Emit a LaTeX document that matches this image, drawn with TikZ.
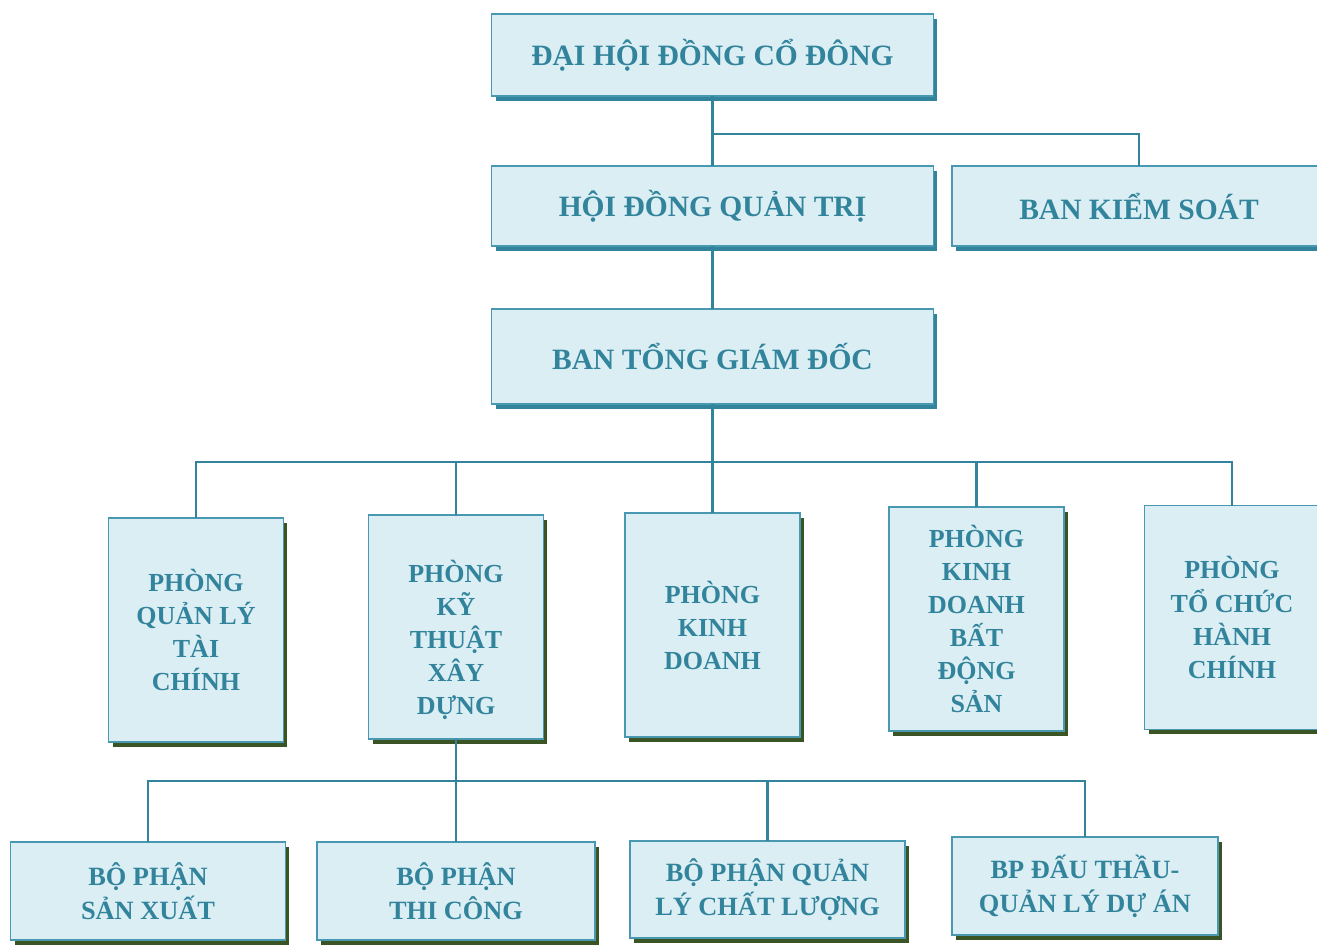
\documentclass[tikz,border=0pt]{standalone}
\usepackage{fontspec}
\setmainfont{Liberation Serif}
\usepackage{xcolor}
\definecolor{orgteal}{RGB}{49,132,155}
\definecolor{orgfill}{RGB}{219,238,244}
\definecolor{orgline}{RGB}{72,152,178}
\definecolor{orggreen}{RGB}{58,84,36}
\usetikzlibrary{shadows}

\begin{document}
\begin{tikzpicture}[x=0.02cm, y=-0.02cm,
  obox/.style={rectangle, draw=orgline, line width=0.7pt, fill=orgfill,
               inner sep=0pt, outer sep=0pt, align=center, text=orgteal,
               drop shadow={shadow xshift=0.08cm, shadow yshift=-0.1cm,
                            fill=#1, opacity=1}},
  topbox/.style={obox=orgteal, minimum width=8.84cm, minimum height=1.64cm,
                 font=\fontsize{16.8}{20}\selectfont\bfseries},
  depbox/.style={obox=orggreen, minimum width=3.5cm, minimum height=4.48cm,
                 font=\fontsize{14.8}{18.8}\selectfont\bfseries},
  subbox/.style={obox=orggreen, minimum width=5.5cm, minimum height=1.96cm,
                 font=\fontsize{15}{19.4}\selectfont\bfseries},
  link/.style={draw=orgteal, line width=1.3pt}
]
\clip (0,0) rectangle (1317,944);
\useasboundingbox (0,0) rectangle (1317,944);

% Top levels
\node[topbox] (dhdcd) at (712.5,55) {ĐẠI HỘI ĐỒNG CỔ ĐÔNG};
\node[topbox, minimum height=1.6cm] (hdqt) at (712.5,206) {HỘI ĐỒNG QUẢN TRỊ};
\node[topbox, minimum width=7.48cm, minimum height=1.6cm] (bks) at (1139,206) {BAN KIỂM SOÁT};
\node[topbox, minimum height=1.9cm] (btgd) at (712.5,356.5) {BAN TỔNG GIÁM ĐỐC};

% Departments
\node[depbox] (pqltc) at (196,630) {PHÒNG\\QUẢN LÝ\\TÀI\\CHÍNH};
\node[depbox, text height=3.6cm] (pktxd) at (456,627) {PHÒNG\\KỸ\\THUẬT\\XÂY\\DỰNG};
\node[depbox] (pkd) at (712.5,625) {PHÒNG\\KINH\\DOANH};
\node[depbox] (pkdbds) at (976.5,619) {PHÒNG\\KINH\\DOANH\\BẤT\\ĐỘNG\\SẢN};
\node[depbox] (ptchc) at (1232,617.5) {PHÒNG\\TỔ CHỨC\\HÀNH\\CHÍNH};

% Sections
\node[subbox] (bpsx) at (148,891) {BỘ PHẬN\\SẢN XUẤT};
\node[subbox, minimum width=5.56cm] (bptc) at (456,891) {BỘ PHẬN\\THI CÔNG};
\node[subbox, minimum height=1.94cm] (bpqlcl) at (767.5,889.5) {BỘ PHẬN QUẢN\\LÝ CHẤT LƯỢNG};
\node[subbox, minimum width=5.32cm] (bpdt) at (1085,886) {BP ĐẤU THẦU-\\QUẢN LÝ DỰ ÁN};

% Connectors
\coordinate (bus0) at (712.5,134);
\coordinate (bus1) at (712.5,462);
\coordinate (bus2) at (456,781);

\draw[link] (dhdcd.south) -- (hdqt.north);
\draw[link] (bus0) -| (bks.north);
\draw[link] (hdqt.south) -- (btgd.north);

\draw[link] (btgd.south) -- (pkd.north);
\draw[link] (pqltc.north) |- (bus1) -| (ptchc.north);
\draw[link] (pktxd.north) |- (bus1);
\draw[link] (pkdbds.north) |- (bus1);

\draw[link] (pktxd.south) -- (bptc.north);
\draw[link] (bpsx.north) |- (bus2) -| (bpdt.north);
\draw[link] (bpqlcl.north) |- (bus2);
\end{tikzpicture}
\end{document}
